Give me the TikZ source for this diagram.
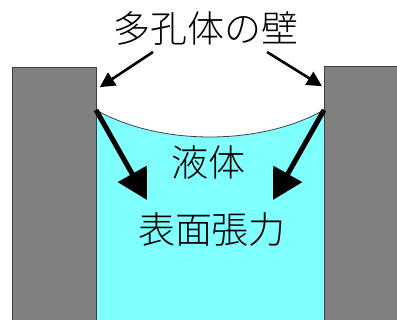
\documentclass[tikz,border=0pt]{standalone}
\usepackage{fontspec}
\newfontfamily\jpfont{Noto Sans CJK JP}[UprightFont=* Light]
\usepackage{tikz}
\usetikzlibrary{arrows.meta, positioning, calc}
\definecolor{wallcolor}{RGB}{128, 128, 128}
\definecolor{liquidcolor}{RGB}{128, 255, 255}

\begin{document}
\begin{tikzpicture}[
    x=1pt, y=1pt,
    wall/.style={draw=black!75, line width=0.8pt, fill=wallcolor, anchor=south west, inner sep=0pt},
    label/.style={font=\jpfont\fontsize{37}{37}\selectfont, inner sep=0pt},
    pointer/.style={-{Triangle[length=15pt, width=15pt]}, line width=2.6pt},
    force/.style={-{Triangle[length=30pt, width=32pt]}, line width=5pt}
]
    \useasboundingbox (0, 0) rectangle (397, 320);

    % Liquid with meniscus
    \fill[liquidcolor] (96, -2) -- (96, 210)
        .. controls (160, 174) and (260, 174) .. (324, 210) -- (324, -2) -- cycle;
    \draw[black!75, line width=0.8pt] (96, 210)
        .. controls (160, 174) and (260, 174) .. (324, 210);

    % Walls
    \node[wall, minimum width=84pt, minimum height=254pt] (leftwall) at (12, -2) {};
    \node[wall, minimum width=80pt, minimum height=255pt] (rightwall) at (324, -2) {};

    % Texts
    \node[label] (walltext) at (206, 291) {多孔体の壁};
    \node[label] (liquid) at (208, 158) {液体};
    \node[label] (tension) at (212, 91) {表面張力};

    % Pointer arrows to the walls
    \coordinate (lstart) at (153, 268);
    \coordinate (rstart) at (267, 268);
    \coordinate (lhit) at ($(leftwall.north east)+(3, -20)$);
    \coordinate (rhit) at ($(rightwall.north west)+(-2, -20)$);
    \draw[pointer] (lstart) -- (lhit);
    \draw[pointer] (rstart) -- (rhit);

    % Surface tension arrows
    \coordinate (lpull) at (96, 210);
    \coordinate (rpull) at (324, 210);
    \coordinate (ltip) at (147, 120);
    \coordinate (rtip) at (273, 120);
    \draw[force] (lpull) -- (ltip);
    \draw[force] (rpull) -- (rtip);
\end{tikzpicture}
\end{document}
